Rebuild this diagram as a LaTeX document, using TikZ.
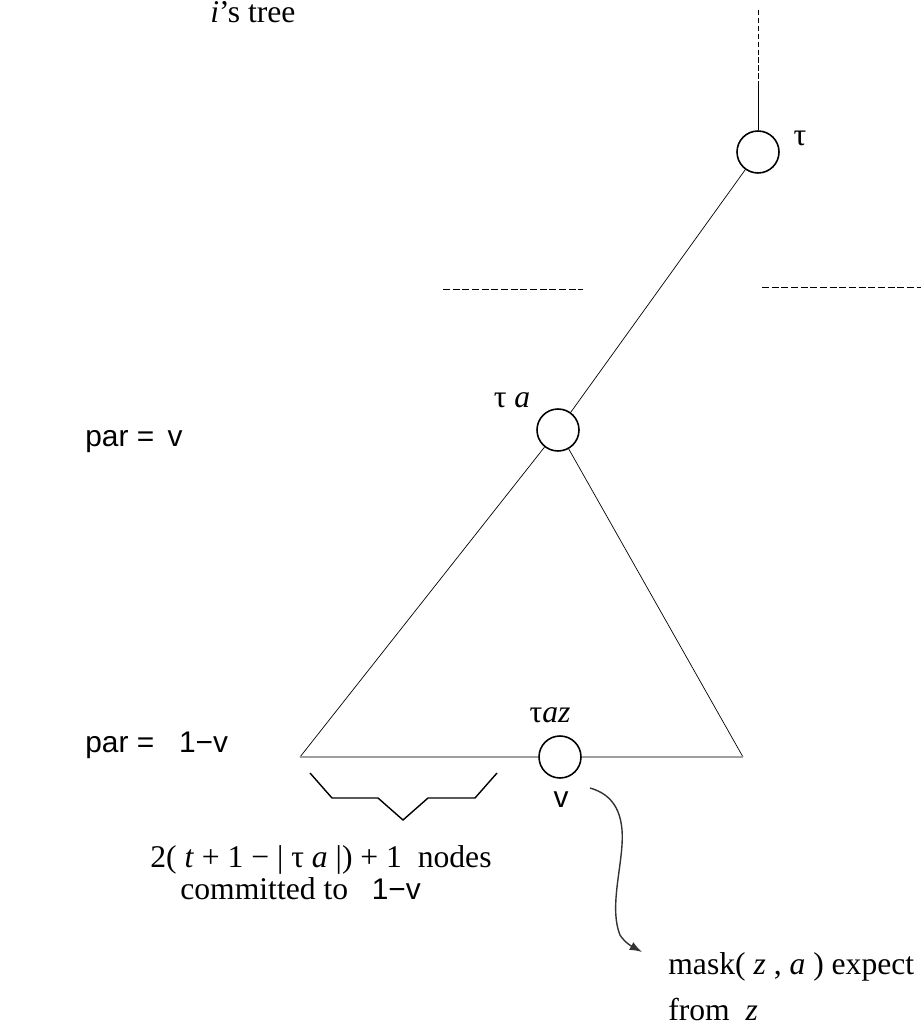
\documentclass[tikz,border=0pt]{standalone}
\usepackage{fontspec}
\setmainfont{Liberation Serif}
\setsansfont{Liberation Sans}
\usetikzlibrary{arrows.meta}

\tikzset{vert/.style={circle, draw, line width=0.9pt, minimum size=0.84cm, inner sep=0pt},
  base/.style={gray!75, line width=1pt},
  lbl/.style={inner sep=0pt}}

\begin{document}
\begin{tikzpicture}[x=0.02cm, y=-0.02cm, font=\fontsize{18}{21}\selectfont]
  \useasboundingbox (0,0) rectangle (921,1030);
  % tree nodes
  \node[vert] (tau) at (758,152) {};
  \node[vert] (taua) at (558,430) {};
  \node[vert] (tauaz) at (560,757) {};
  \coordinate (top) at (758,10); \coordinate (mid) at (758,85);
  \coordinate (lc) at (300,757); \coordinate (rc) at (743,757);
  \draw[dashed, dash pattern=on 3pt off 1.5pt] (top) -- (mid);
  \draw (mid) -- (tau);
  \draw (tau) -- (taua);
  \draw (taua) -- (lc); \draw (taua) -- (rc);
  \draw[base] (lc) -- (tauaz); \draw[base] (tauaz) -- (rc);
  \draw[dashed, dash pattern=on 4pt off 1.5pt] (443,289) -- (583,289);
  \draw[dashed, dash pattern=on 4pt off 1.5pt] (762,287) -- (921,287);
  % brace
  \draw[line width=0.8pt] (310,773) -- (332,798) -- (378,798) -- (403,820) -- (428,798) -- (475,798) -- (497,773);
  % labels
  \node[lbl, anchor=base west] (tree) at (210,23) {\textit{i}’s tree};
  \node[lbl] (ltau) at (800,138) {τ};
  \node[lbl] (ltaua) at (512,400) {τ \textit{a}};
  \node[lbl] (ltauaz) at (550,715) {τ\textit{az}};
  \node[lbl, anchor=west, font=\fontsize{17}{20}\sffamily] (par1) at (85,442) {par = \,v};
  \node[lbl, anchor=west, font=\fontsize{17}{20}\sffamily] (par2) at (85,745) {par = \ \ 1−v};
  \node[lbl, font=\fontsize{17}{20}\sffamily] (lv) at (561,800) {v};
  \node[lbl, anchor=west] (cnt) at (150,860) {2( \textit{t} + 1 − | τ \textit{a} |) + 1 \ nodes};
  \node[lbl, anchor=west] (cmt) at (180,889) {committed to \ \ \textsf{\fontsize{17}{20}\selectfont 1−v}};
  \node[lbl, anchor=west] (mask) at (668,967) {mask( \textit{z} , \textit{a} ) expect};
  \node[lbl, anchor=west] (from) at (668,1010) {from \ \textit{z}};
  % curved arrow
  \coordinate (as) at (590,788); \coordinate (ae) at (642,952);
  \draw[-{Latex[length=7pt,width=5pt]}, gray!40!black, line width=0.8pt] (as) .. controls (615,795) and (624,815) .. (622,845) .. controls (620,875) and (610,910) .. (620,935) .. controls (625,943) and (633,947) .. (ae);
\end{tikzpicture}
\end{document}
